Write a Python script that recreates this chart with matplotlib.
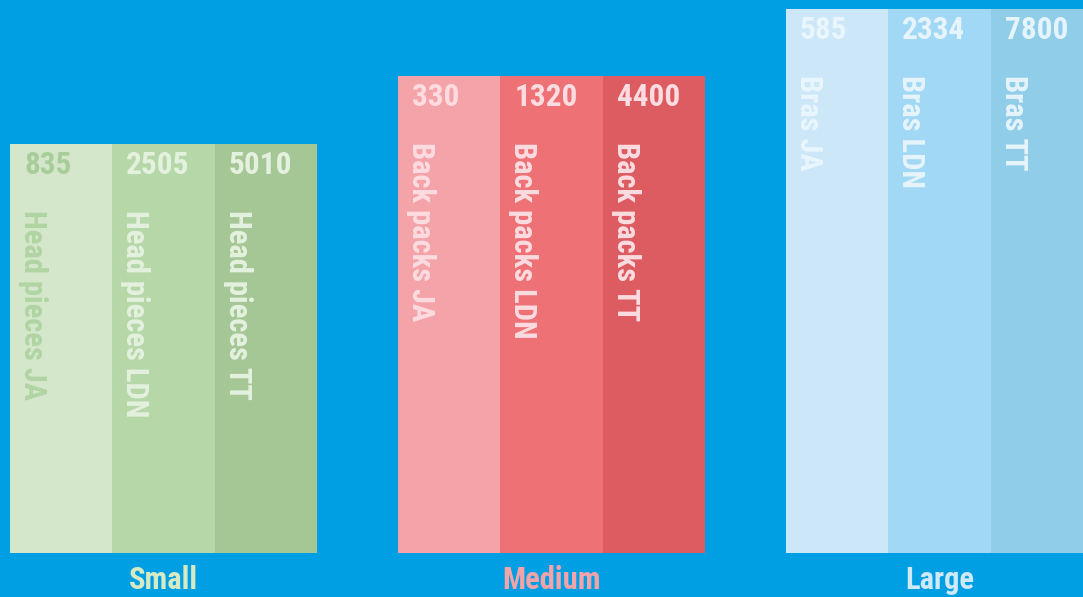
import matplotlib
matplotlib.use("Agg")
import matplotlib.pyplot as plt

# ---- data ----
groups = ["Small", "Medium", "Large"]
group_heights = [75.2, 87.7, 100.0]          # relative bar heights per group
series = [["JA", "LDN", "TT"]] * 3
products = ["Head pieces", "Back packs", "Bras"]
values = [[835, 2505, 5010],
          [330, 1320, 4400],
          [585, 2334, 7800]]

# ---- styles ----
bg = "#009FE3"
bar_colors = [["#D4E7CB", "#B6D7A8", "#A5C695"],
              ["#F4A4A9", "#EE7175", "#DD5C62"],
              ["#CBE7F8", "#A0D8F5", "#8FCDE9"]]
text_colors = [["#A9CD9A", "#E5F1DF", "#E5F1DF"],
               ["#FCDCE1", "#FCDCE1", "#FCDCE1"],
               ["#EAF6FD", "#E6F4FC", "#E6F4FC"]]
label_colors = [["#B1D4A3", "#E5F1DF", "#E5F1DF"],
                ["#FCDCE1", "#FCDCE1", "#FCDCE1"],
                ["#EAF6FD", "#E6F4FC", "#E6F4FC"]]
group_label_colors = ["#D6EAC3", "#F4A3A8", "#CFE9F8"]

W, H = 1083, 597
fig = plt.figure(figsize=(W / 100, H / 100), dpi=100, facecolor=bg)
ax = fig.add_axes([0, 0, 1, 1])
ax.set_facecolor(bg)
ax.axis("off")

base_px = 44      # baseline distance from bottom in px
full_px = 544     # px for 100
ax.set_xlim(0, W)
ax.set_ylim(-base_px / full_px * 100, (H - base_px) / full_px * 100)

group_left0 = 10
group_step = 388
bar_w = 307 / 3
PT = 0.72  # points per px at dpi 100
font = ["Roboto Condensed", "Roboto", "DejaVu Sans"]

for g, gname in enumerate(groups):
    gl = group_left0 + g * group_step
    h = group_heights[g]
    for j in range(3):
        left = gl + j * bar_w
        ax.bar(left, h, width=bar_w + 0.4, align="edge", bottom=0,
               color=bar_colors[g][j], linewidth=0)
        ax.annotate(f"{values[g][j]}", xy=(left, h),
                    xytext=(14 * PT, -6 * PT), textcoords="offset points",
                    ha="left", va="top", fontsize=22.5, fontweight="bold",
                    family=font, color=text_colors[g][j])
        ax.annotate(f"{products[g]} {series[g][j]}", xy=(left, h),
                    xytext=(8 * PT, -66 * PT), textcoords="offset points",
                    ha="left", va="top", rotation=270, fontsize=22,
                    fontweight="bold", family=font, color=label_colors[g][j])
    ax.annotate(gname, xy=(gl + 1.5 * bar_w, 0),
                xytext=(0, -27 * PT), textcoords="offset points",
                ha="center", va="center", fontsize=22, fontweight="bold",
                family=font, color=group_label_colors[g])

fig.savefig("out.png", dpi=100, facecolor=bg)
